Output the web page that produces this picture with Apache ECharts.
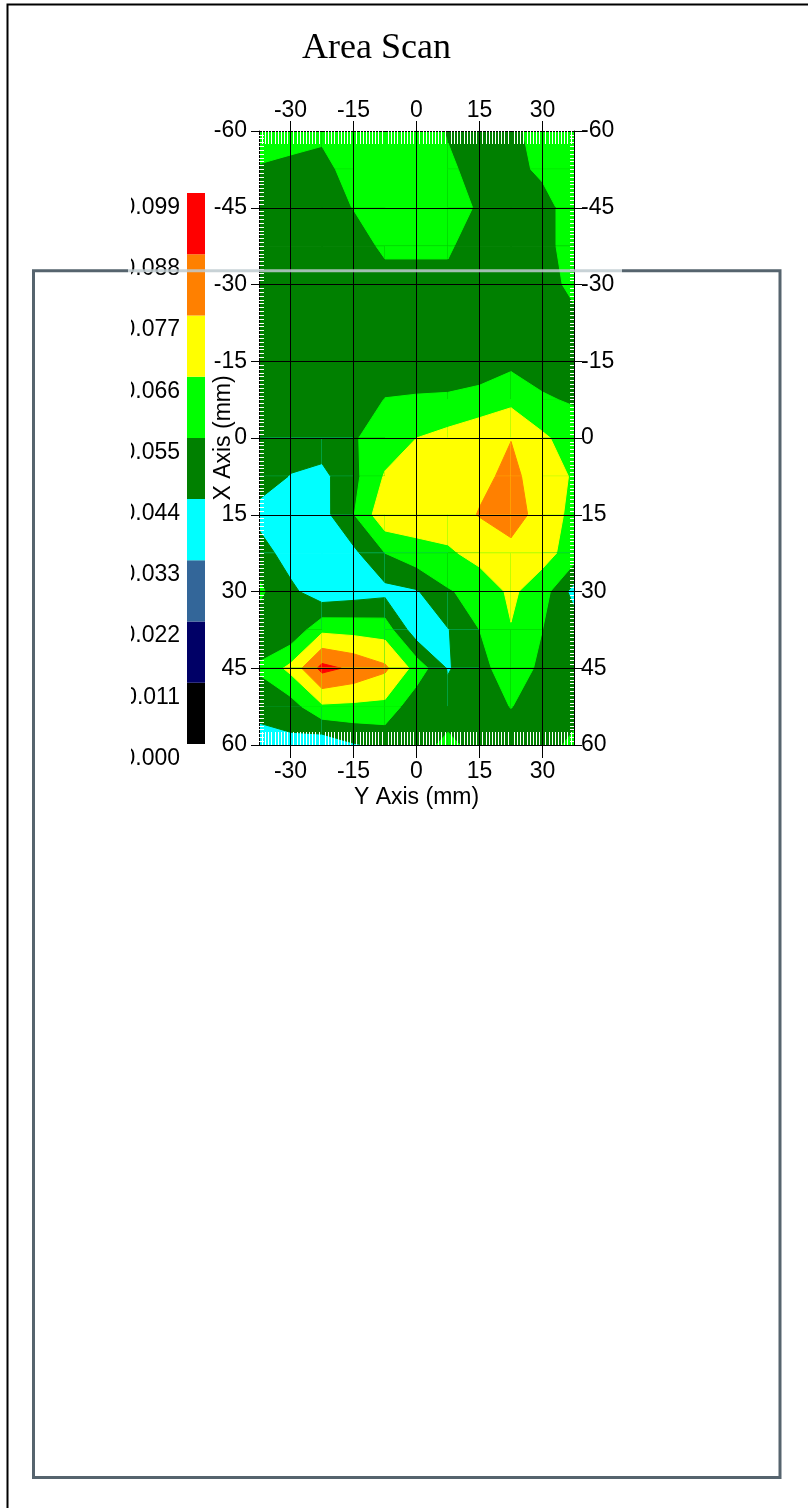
<!DOCTYPE html>
<html>
<head>
<meta charset="utf-8">
<script src="https://cdn.jsdelivr.net/npm/echarts@6/dist/echarts.min.js"></script>
<style>
html,body{margin:0;padding:0;background:#fff;}
#chart{width:808px;height:1508px;}
</style>
</head>
<body>
<div id="chart"></div>
<script>
// Scan positions along the horizontal "Y Axis" (mm) – one column per position
const scanY = [-37.5, -30, -22.5, -15, -7.5, 0, 7.5, 15, 22.5, 30, 37.5];
// Scan positions along the vertical "X Axis" (mm) – one row per position
const scanX = [-60, -52.5, -45, -37.5, -30, -22.5, -15, -7.5, 0, 7.5, 15, 22.5, 30, 37.5, 45, 52.5, 60];
// Readings, one row per scanX value, one entry per scanY value
const readings = [
  [0.058, 0.060, 0.057, 0.060, 0.061, 0.062, 0.054, 0.050, 0.052, 0.060, 0.061],
  [0.0545, 0.052, 0.052, 0.059, 0.062, 0.063, 0.0572, 0.0505, 0.050, 0.058, 0.062],
  [0.050, 0.049, 0.050, 0.0553, 0.061, 0.062, 0.060, 0.0536, 0.049, 0.049, 0.063],
  [0.050, 0.049, 0.049, 0.050, 0.057, 0.057, 0.057, 0.047, 0.049, 0.049, 0.063],
  [0.050, 0.049, 0.049, 0.049, 0.051, 0.051, 0.051, 0.050, 0.049, 0.050, 0.058],
  [0.050, 0.049, 0.049, 0.049, 0.049, 0.049, 0.049, 0.050, 0.050, 0.050, 0.052],
  [0.050, 0.049, 0.049, 0.049, 0.051, 0.052, 0.052, 0.050, 0.052, 0.051, 0.050],
  [0.050, 0.050, 0.050, 0.051, 0.0552, 0.0555, 0.0557, 0.058, 0.0631, 0.056, 0.054],
  [0.050, 0.050, 0.050, 0.054, 0.060, 0.066, 0.070, 0.075, 0.0768, 0.068, 0.060],
  [0.050, 0.0435, 0.041, 0.052, 0.067, 0.071, 0.073, 0.075, 0.079, 0.073, 0.0645],
  [0.040, 0.038, 0.040, 0.0545, 0.074, 0.072, 0.0726, 0.0775, 0.086, 0.069, 0.0645],
  [0.050, 0.038, 0.039, 0.0415, 0.055, 0.062, 0.0642, 0.070, 0.071, 0.070, 0.061],
  [0.057, 0.047, 0.0361, 0.0384, 0.0407, 0.043, 0.054, 0.059, 0.068, 0.060, 0.040],
  [0.050, 0.046, 0.0636, 0.0625, 0.0613, 0.037, 0.0435, 0.055, 0.0655, 0.055, 0.050],
  [0.056, 0.069, 0.0914, 0.0858, 0.079, 0.062, 0.043, 0.052, 0.060, 0.053, 0.050],
  [0.050, 0.050, 0.0642, 0.0636, 0.063, 0.047, 0.049, 0.050, 0.0553, 0.050, 0.050],
  [0.036, 0.041, 0.036, 0.043, 0.046, 0.050, 0.058, 0.050, 0.049, 0.050, 0.058]
];
// Contour levels (band boundaries) and band colours
const levels = [0, 0.011, 0.022, 0.033, 0.044, 0.055, 0.066, 0.077, 0.088, 0.099];
const bandColors = ['#000000', '#000066', '#336699', '#00ffff', '#008000', '#00ff00', '#ffff00', '#ff8000', '#ff0000'];
// Tick labels
const yTickValues = [-30, -15, 0, 15, 30];
const xTickValues = [-60, -45, -30, -15, 0, 15, 30, 45, 60];

const FONT = 'Liberation Sans';
const labelStyle = {fontFamily: FONT, fontSize: 23, color: '#000'};

function clipAbove(poly, level) {
  const out = [];
  for (let k = 0; k < poly.length; k++) {
    const a = poly[k], b = poly[(k + 1) % poly.length];
    const ina = a[2] >= level, inb = b[2] >= level;
    if (ina) out.push(a);
    if (ina !== inb) {
      const t = (level - a[2]) / (b[2] - a[2]);
      out.push([a[0] + t * (b[0] - a[0]), a[1] + t * (b[1] - a[1]), level]);
    }
  }
  return out;
}

const cells = [];
for (let i = 0; i < scanX.length - 1; i++) {
  for (let j = 0; j < scanY.length - 1; j++) {
    cells.push([scanY[j], scanX[i], j, i]);
  }
}

function renderCell(params, api) {
  const j = api.value(2), i = api.value(3);
  const corners = [
    [scanY[j], scanX[i], readings[i][j]],
    [scanY[j + 1], scanX[i], readings[i][j + 1]],
    [scanY[j + 1], scanX[i + 1], readings[i + 1][j + 1]],
    [scanY[j], scanX[i + 1], readings[i + 1][j]]
  ];
  const vmin = Math.min.apply(null, corners.map(c => c[2]));
  let startBand = 0;
  for (let b = 0; b < bandColors.length; b++) if (vmin >= levels[b]) startBand = b;
  const children = [];
  for (let b = startBand; b < bandColors.length; b++) {
    const poly = b === startBand ? corners : clipAbove(corners, levels[b]);
    if (poly.length < 3) break;
    children.push({
      type: 'polygon',
      shape: {points: poly.map(p => api.coord([p[0], p[1]]))},
      style: {fill: bandColors[b], stroke: bandColors[b], lineWidth: 1}
    });
  }
  return {type: 'group', children: children};
}

const bands = bandColors.map((c, b) => [levels[b], levels[b + 1], b]);
function renderBand(params, api) {
  const lo = api.value(0), hi = api.value(1), b = api.value(2);
  const p1 = api.coord([0, hi]);
  const p2 = api.coord([1, lo]);
  return {type: 'rect', shape: {x: p1[0], y: p1[1], width: p2[0] - p1[0], height: p2[1] - p1[1]},
          style: {fill: bandColors[b]}};
}

function hAxis(pos, withName) {
  const top = pos === 'top';
  const ax = {
    gridIndex: 0, type: 'value', position: pos, min: -37.5, max: 37.5, interval: 7.5, z: 5,
    axisLine: {show: true, onZero: false, lineStyle: {color: '#000', width: 1}},
    axisTick: {show: true, customValues: yTickValues, length: top ? 10 : 13, lineStyle: {color: '#000', width: 1}},
    axisLabel: Object.assign({customValues: yTickValues, margin: top ? 9 : 15}, labelStyle),
    minorTick: {show: true, splitNumber: 10, length: -13, lineStyle: {color: '#ffffff', width: 1}},
    splitLine: {show: false}
  };
  if (withName) {
    ax.name = 'Y Axis (mm)';
    ax.nameLocation = 'middle';
    ax.nameGap = 41;
    ax.nameMoveOverlap = false;
    ax.nameTextStyle = labelStyle;
  }
  return ax;
}
function vAxis(pos, withName) {
  const left = pos === 'left';
  const ax = {
    gridIndex: 0, type: 'value', position: pos, inverse: true, min: -60, max: 60, interval: 15, z: 5,
    axisLine: {show: true, onZero: false, lineStyle: {color: '#000', width: 1}},
    axisTick: {show: true, length: 8, lineStyle: {color: '#000', width: 1}},
    axisLabel: Object.assign({margin: left ? 12 : 7}, labelStyle),
    minorTick: {show: true, splitNumber: 20, length: left ? -5 : -4, lineStyle: {color: '#ffffff', width: 1}},
    splitLine: {show: left, lineStyle: {color: '#000', width: 1}}
  };
  if (withName) {
    ax.name = 'X Axis (mm)';
    ax.nameLocation = 'middle';
    ax.nameGap = 24;
    ax.nameRotate = 90;
    ax.nameMoveOverlap = false;
    ax.nameTextStyle = labelStyle;
  }
  return ax;
}

const chart = echarts.init(document.getElementById('chart'), null, {renderer: 'canvas'});
chart.setOption({
  backgroundColor: '#ffffff',
  animation: false,
  title: {
    text: 'Area Scan', left: 297, top: 26,
    textStyle: {fontFamily: 'Liberation Serif', fontSize: 36, fontWeight: 'normal', color: '#000'}
  },
  grid: [
    {left: 259, top: 131, width: 315, height: 614, show: false},
    {left: 187, top: 193, width: 18, height: 551, show: false}
  ],
  xAxis: [
    hAxis('bottom', true),
    hAxis('top', false),
    {gridIndex: 1, type: 'value', min: 0, max: 1, show: false}
  ],
  yAxis: [
    vAxis('left', true),
    vAxis('right', false),
    {
      gridIndex: 1, type: 'value', position: 'left', min: 0, max: 0.099, interval: 0.011,
      axisLine: {show: false}, axisTick: {show: false}, splitLine: {show: false},
      axisLabel: Object.assign({
        margin: 7, showMinLabel: true, showMaxLabel: true,
        verticalAlign: 'top', lineHeight: 29,
        formatter: v => v.toFixed(3)
      }, labelStyle)
    }
  ],
  series: [
    {
      type: 'custom', xAxisIndex: 0, yAxisIndex: 0, data: cells, renderItem: renderCell,
      encode: {x: 0, y: 1}, clip: true, silent: true,
      markLine: {
        silent: true, symbol: ['none', 'none'], label: {show: false}, animation: false,
        lineStyle: {color: '#000', width: 1, type: 'solid'},
        data: yTickValues.map(v => ({xAxis: v}))
      }
    },
    {
      type: 'custom', xAxisIndex: 2, yAxisIndex: 2, data: bands, renderItem: renderBand,
      encode: {x: 2, y: 0}, silent: true
    }
  ],
  graphic: [
    {type: 'rect', shape: {x: 100, y: 182, width: 31, height: 600}, style: {fill: '#ffffff'}, z: 100},
    {type: 'polyline', shape: {points: [[128, 270.8], [33.5, 270.8], [33.5, 1477.5], [780, 1477.5], [780, 270.8], [622, 270.8]]},
     style: {stroke: '#56646e', lineWidth: 3, fill: null}, z: 101},
    {type: 'line', shape: {x1: 128, y1: 270.8, x2: 622, y2: 270.8},
     style: {stroke: 'rgba(190,202,207,0.85)', lineWidth: 3}, z: 101},
    {type: 'polyline', shape: {points: [[808, 4.5], [7.5, 4.5], [7.5, 1508]]},
     style: {stroke: '#000000', lineWidth: 2, fill: null}, z: 102}
  ]
});
</script>
</body>
</html>
